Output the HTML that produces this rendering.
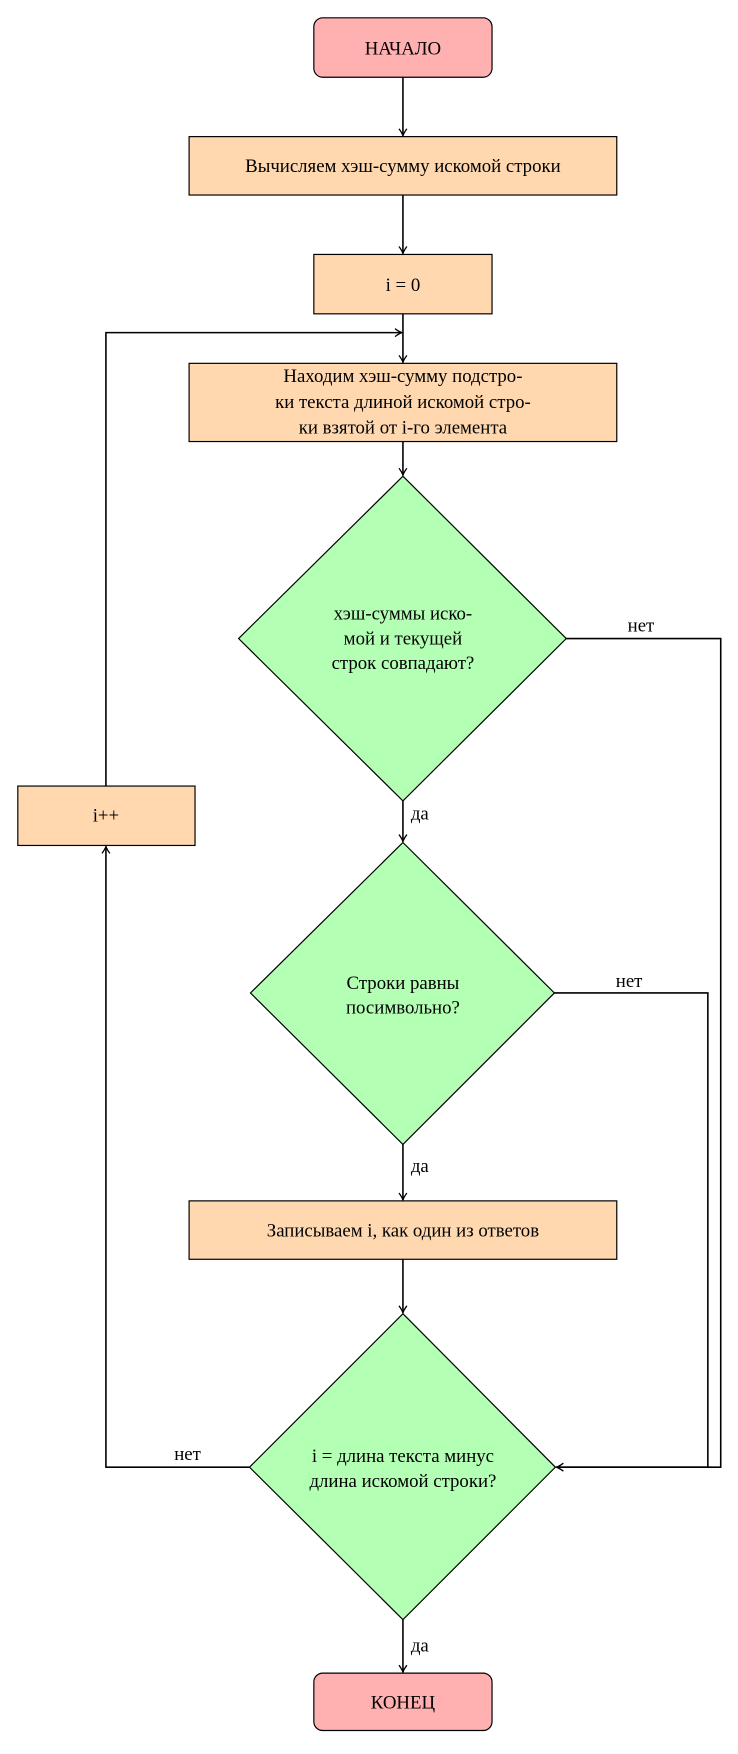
<!DOCTYPE html>
<html><head><meta charset="utf-8"><style>
html,body{margin:0;padding:0;background:#fff}
svg text{font-family:"Liberation Serif","DejaVu Serif",serif;font-size:19px;fill:#000}
</style></head><body>
<svg width="738" height="1749" viewBox="0 0 738 1749" xmlns="http://www.w3.org/2000/svg">
<defs><marker id="a" markerWidth="10" markerHeight="10" refX="8" refY="5" orient="auto" markerUnits="userSpaceOnUse"><path d="M1,1 Q5,4 8,5 Q5,6 1,9" fill="none" stroke="#000" stroke-width="1.3"/></marker></defs>
<g transform="scale(0.99)">
<g stroke="#000" stroke-width="1.2">
<rect x="317" y="18" width="180" height="60" rx="9" fill="#ffb0b0"/>
<rect x="191" y="138" width="432" height="59" fill="#ffd8b0"/>
<rect x="317" y="257" width="180" height="60" fill="#ffd8b0"/>
<rect x="191" y="367" width="432" height="79" fill="#ffd8b0"/>
<polygon points="407,481 572,645 407,809 241,645" fill="#b3ffb3"/>
<polygon points="407,851 560,1003 407,1156 253,1003" fill="#b3ffb3"/>
<rect x="191" y="1213" width="432" height="59" fill="#ffd8b0"/>
<polygon points="407,1327 561,1482 407,1636 252,1482" fill="#b3ffb3"/>
<rect x="18" y="794" width="179" height="60" fill="#ffd8b0"/>
<rect x="317" y="1690" width="180" height="58" rx="9" fill="#ffb0b0"/>
</g>
<g stroke="#000" stroke-width="1.6" fill="none" marker-end="url(#a)">
<line x1="407" y1="78" x2="407" y2="137"/>
<line x1="407" y1="197" x2="407" y2="256"/>
<line x1="407" y1="317" x2="407" y2="366"/>
<line x1="407" y1="446" x2="407" y2="480"/>
<line x1="407" y1="809" x2="407" y2="850"/>
<line x1="407" y1="1156" x2="407" y2="1212"/>
<line x1="407" y1="1272" x2="407" y2="1326"/>
<line x1="407" y1="1636" x2="407" y2="1689"/>
<polyline points="572,645 728,645 728,1482 562,1482"/>
<polyline points="560,1003 715,1003 715,1482 562,1482"/>
<polyline points="252,1482 107,1482 107,855"/>
<polyline points="107,794 107,336 406,336"/>
</g>
<g text-anchor="middle">
<text x="407" y="55">НАЧАЛО</text>
<text x="407" y="174">Вычисляем хэш-сумму искомой строки</text>
<text x="407" y="294">i = 0</text>
<text x="407" y="386">Находим хэш-сумму подстро-</text>
<text x="407" y="412">ки текста длиной искомой стро-</text>
<text x="407" y="438">ки взятой от i-го элемента</text>
<text x="407" y="626">хэш-суммы иско-</text>
<text x="407" y="651">мой и текущей</text>
<text x="407" y="676">строк совпадают?</text>
<text x="407" y="999">Строки равны</text>
<text x="407" y="1024">посимвольно?</text>
<text x="407" y="1249">Записываем i, как один из ответов</text>
<text x="407" y="1477">i = длина текста минус</text>
<text x="407" y="1502">длина искомой строки?</text>
<text x="107" y="830">i++</text>
<text x="407" y="1726">КОНЕЦ</text>
</g>
<g style="font-size:17px">
<text x="634" y="638">нет</text>
<text x="622" y="997">нет</text>
<text x="176" y="1475">нет</text>
<text x="415" y="828">да</text>
<text x="415" y="1184">да</text>
<text x="415" y="1668">да</text>
</g>
</g>
</svg>
</body></html>
